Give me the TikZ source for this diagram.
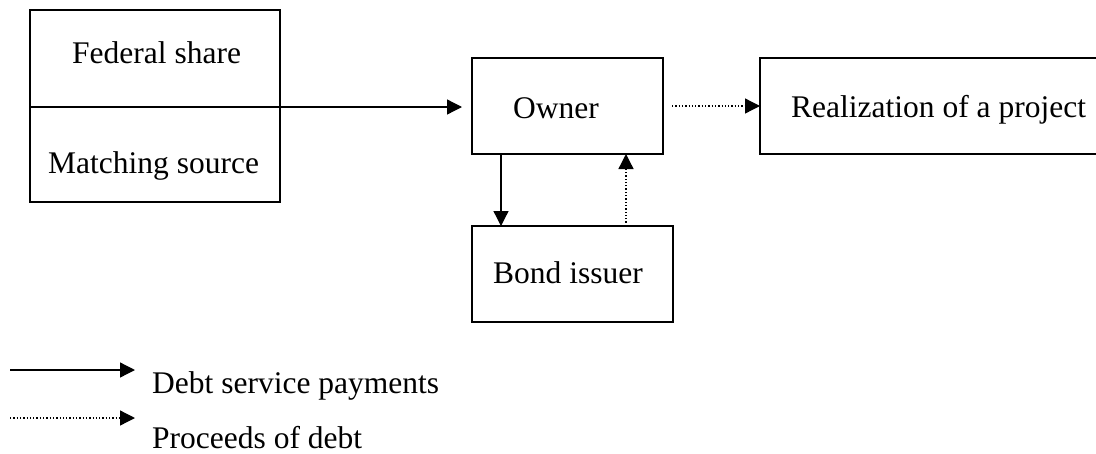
\documentclass[tikz,border=0pt]{standalone}
\usepackage{fontspec}
\setmainfont{Liberation Serif}
\usetikzlibrary{arrows.meta}
\begin{document}
\begin{tikzpicture}[x=1pt,y=-1pt,
  box/.style={draw, line width=1.5pt, inner sep=0pt, outer sep=0pt, anchor=north west},
  lbl/.style={inner sep=0pt, anchor=base west, font=\fontsize{31.5}{38}\selectfont},
  flow/.style={line width=1.3pt, -{Triangle[length=15pt,width=15pt]}},
  proceeds/.style={flow, dash pattern=on 1.3pt off 2pt}]
\useasboundingbox (0,0) rectangle (1096,453);
% boxes
\node[box, minimum width=250pt, minimum height=97pt] (fed) at (30,10) {};
\node[box, minimum width=250pt, minimum height=95pt] (match) at (30,107) {};
\node[box, minimum width=191pt, minimum height=96pt] (owner) at (472,58) {};
\node[box, minimum width=345pt, minimum height=96pt] (real) at (760,58) {};
\node[box, minimum width=201pt, minimum height=96pt] (bond) at (472,226) {};
% texts
\node[lbl] (tfed) at (72,63) {Federal share};
\node[lbl] (tmatch) at (48,173) {Matching source};
\node[lbl] (towner) at (513,118) {Owner};
\node[lbl] (treal) at (791,117) {Realization of a project};
\node[lbl] (tbond) at (493,283) {Bond issuer};
% connectors
\draw[flow, shorten >=10pt] (fed.south west) -- (fed.south west -| owner.west);
\draw[proceeds, shorten <=9pt] (owner.east) -- (real.west);
\draw[flow] ([xshift=29pt]owner.south west) -- ([xshift=29pt]owner.south west |- bond.north);
\draw[proceeds] ([xshift=154pt]bond.north west) -- ([xshift=154pt]bond.north west |- owner.south);
% legend
\coordinate (l1a) at (10,370);
\coordinate (l1b) at (135,370);
\coordinate (l2a) at (10,418);
\coordinate (l2b) at (135,418);
\draw[flow] (l1a) -- (l1b);
\draw[proceeds] (l2a) -- (l2b);
\node[lbl] (tdebt) at (152,393) {Debt service payments};
\node[lbl] (tproc) at (152,448) {Proceeds of debt};
\end{tikzpicture}
\end{document}
